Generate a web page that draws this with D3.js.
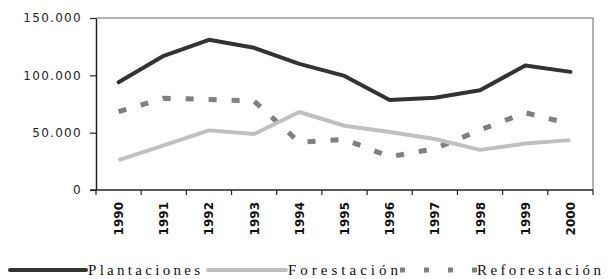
<!DOCTYPE html>
<html>
<head>
<meta charset="utf-8">
<script src="https://cdn.jsdelivr.net/npm/d3@7"></script>
<style>
  html, body { margin: 0; padding: 0; background: #fff; }
  svg { display: block; }
</style>
</head>
<body>
<svg id="chart" width="613" height="279"></svg>
<script>
const years = ['1990', '1991', '1992', '1993', '1994', '1995', '1996', '1997', '1998', '1999', '2000'];
const plantaciones = [94000, 117000, 131000, 124000, 110000, 99500, 78500, 80500, 87000, 108500, 103000];
const forestacion = [26000, 39000, 52000, 48800, 68000, 56000, 50500, 44500, 35000, 40500, 43500];
const reforestacion = [68300, 80000, 79000, 77500, 41500, 44200, 29000, 36000, 52300, 67400, 57600];
const yTicks = [0, 50000, 100000, 150000];

const margin = { left: 96, right: 20, top: 18, bottom: 89 };
const width = 613;
const height = 279;

const svg = d3.select('#chart');

const x = d3.scaleBand()
  .domain(years)
  .range([margin.left, width - margin.right])
  .padding(0);

const y = d3.scaleLinear()
  .domain([0, 150000])
  .range([height - margin.bottom, margin.top]);

const xMid = (d) => x(d) + x.bandwidth() / 2;
const fmt = (v) => d3.format(',')(v).replace(/,/g, '.');

// plot frame (top and right are lighter)
svg.append('path')
  .attr('fill', 'none')
  .attr('stroke', '#999')
  .attr('stroke-width', 1.5)
  .attr('d', `M${margin.left},${y(150000)}H${width - margin.right}V${y(0)}`);

// y axis
const yAxis = svg.append('g')
  .attr('transform', `translate(${margin.left},0)`)
  .call(d3.axisLeft(y).tickValues(yTicks).tickFormat(fmt).tickSize(6).tickSizeOuter(0));
yAxis.select('.domain').attr('stroke', '#222').attr('stroke-width', 1.5);
yAxis.selectAll('.tick line').attr('stroke', '#222').attr('stroke-width', 1.2);
yAxis.selectAll('.tick text')
  .attr('x', -14)
  .attr('fill', '#222')
  .style('font-family', 'DejaVu Sans, sans-serif')
  .style('font-size', '12px')
  .style('letter-spacing', '1.3px');

// x axis line and ticks at category boundaries
const xEdges = years.map((d) => x(d)).concat([x(years[years.length - 1]) + x.bandwidth()]);
svg.append('line')
  .attr('x1', margin.left - 6)
  .attr('x2', width - margin.right)
  .attr('y1', y(0))
  .attr('y2', y(0))
  .attr('stroke', '#222')
  .attr('stroke-width', 1.5);
svg.append('g')
  .selectAll('line')
  .data(xEdges)
  .enter()
  .append('line')
  .attr('x1', (d) => d)
  .attr('x2', (d) => d)
  .attr('y1', y(0))
  .attr('y2', y(0) + 5)
  .attr('stroke', '#222')
  .attr('stroke-width', 1.2);

// x labels, rotated
svg.append('g')
  .selectAll('text')
  .data(years)
  .enter()
  .append('text')
  .attr('transform', (d) => `translate(${xMid(d) + 4.5},${y(0) + 12}) rotate(-90)`)
  .attr('text-anchor', 'end')
  .attr('fill', '#111')
  .style('font-family', 'DejaVu Sans, sans-serif')
  .style('font-weight', 'bold')
  .style('font-size', '12px')
  .text((d) => d);

const line = d3.line()
  .x((d, i) => xMid(years[i]))
  .y((d) => y(d));

// series
svg.append('path')
  .datum(reforestacion)
  .attr('fill', 'none')
  .attr('stroke', '#808080')
  .attr('stroke-width', 5)
  .attr('stroke-dasharray', '8,15')
  .attr('d', line);

svg.append('path')
  .datum(forestacion)
  .attr('fill', 'none')
  .attr('stroke', '#c0c0c0')
  .attr('stroke-width', 4)
  .attr('stroke-linejoin', 'round')
  .attr('d', line);

svg.append('path')
  .datum(plantaciones)
  .attr('fill', 'none')
  .attr('stroke', '#333')
  .attr('stroke-width', 4)
  .attr('stroke-linejoin', 'round')
  .attr('stroke-linecap', 'round')
  .attr('d', line);

// legend
const legendItems = [
  { name: 'Plantaciones', color: '#333', dash: null, x1: 10, x2: 86, tx: 88, tw: 112 },
  { name: 'Forestación', color: '#c0c0c0', dash: null, x1: 208, x2: 286, tx: 288, tw: 110 },
  { name: 'Reforestación', color: '#808080', dash: '5,19', x1: 400, x2: 478, tx: 477, tw: 124 }
];
const ly = 270;
const legend = svg.append('g');
legend.selectAll('line')
  .data(legendItems)
  .enter()
  .append('line')
  .attr('x1', (d) => d.x1)
  .attr('x2', (d) => d.x2)
  .attr('y1', ly)
  .attr('y2', ly)
  .attr('stroke', (d) => d.color)
  .attr('stroke-width', (d) => (d.dash ? 5 : 4))
  .attr('stroke-linecap', (d) => (d.dash ? 'butt' : 'round'))
  .attr('stroke-dasharray', (d) => d.dash);
legend.selectAll('text')
  .data(legendItems)
  .enter()
  .append('text')
  .attr('x', (d) => d.tx)
  .attr('y', ly + 5)
  .attr('textLength', (d) => d.tw)
  .attr('lengthAdjust', 'spacing')
  .attr('fill', '#111')
  .style('font-family', 'Liberation Serif, serif')
  .style('font-size', '15px')
  .text((d) => d.name);
</script>
</body>
</html>
